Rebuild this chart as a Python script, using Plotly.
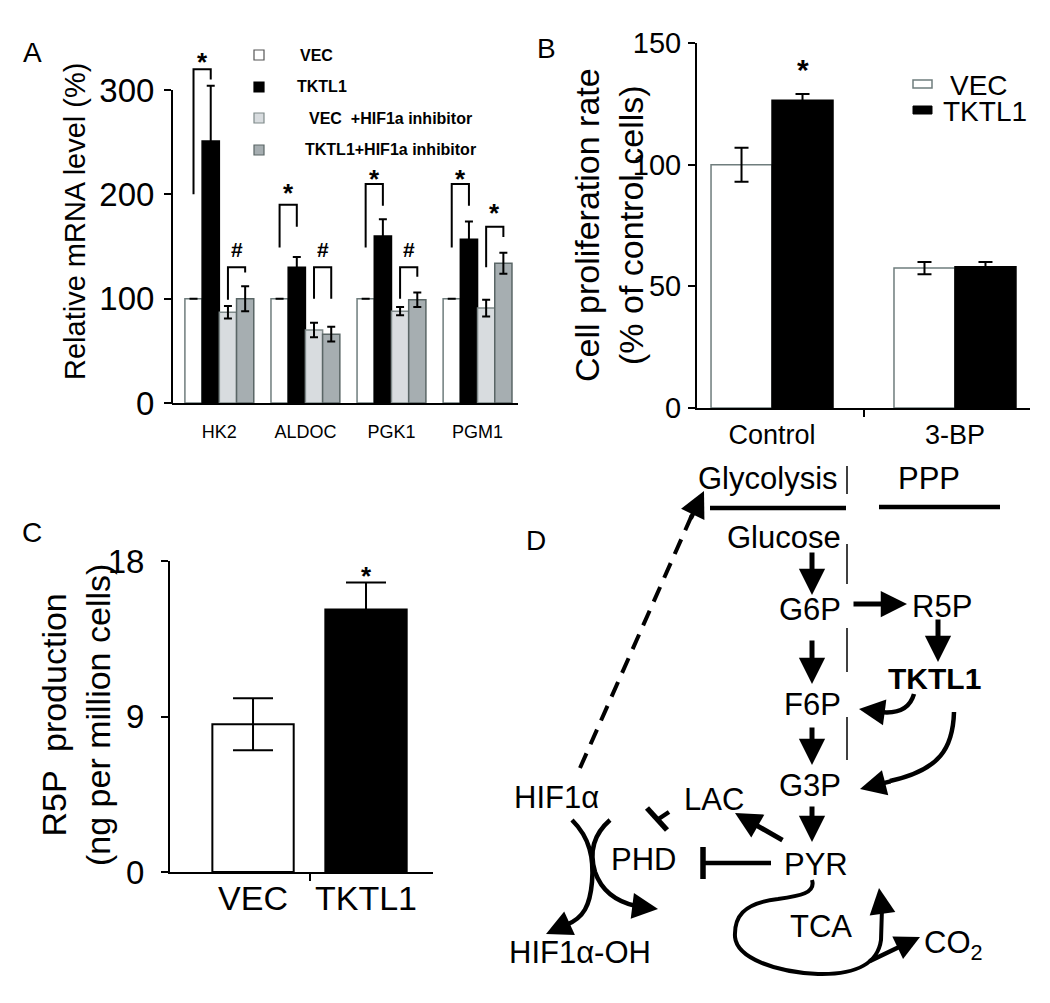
import plotly.graph_objects as go

W, H = 1050, 1003

# ---------------- data ----------------
# Panel A
genes = ["HK2", "ALDOC", "PGK1", "PGM1"]
a_names = ["VEC", "TKTL1", "VEC  +HIF1a inhibitor", "TKTL1+HIF1a inhibitor"]
a_vec = [100, 100, 100, 100]
a_vec_err = [0, 0, 0, 0]
a_tktl1 = [251, 130, 160, 157]
a_tktl1_err = [53, 10, 16, 17]
a_vec_hif = [87, 70, 88, 91]
a_vec_hif_err = [6, 7, 4, 8]
a_tktl1_hif = [100, 66, 99, 134]
a_tktl1_hif_err = [12, 7, 7, 10]
a_yticks = [0, 100, 200, 300]
# significance brackets: (gene index, left bar, right bar, left foot, top, right foot, mark, mark level)
a_sig = [
    (0, 0, 1, 200, 320, 310, "*", 333),
    (1, 0, 1, 149, 190, 169, "*", 207),
    (2, 0, 1, 149, 210, 189, "*", 220),
    (3, 0, 1, 149, 210, 189, "*", 220),
    (0, 2, 3, 99, 130, 125, "#", 147),
    (1, 2, 3, 100, 130, 100, "#", 147),
    (2, 2, 3, 100, 130, 121, "#", 147),
    (3, 2, 3, 130, 169, 159, "*", 188),
]

# Panel B
b_groups = ["Control", "3-BP"]
b_names = ["VEC", "TKTL1"]
b_vec = [100, 57.5]
b_vec_err = [7, 2.5]
b_tktl1 = [126.5, 58]
b_tktl1_err = [2.5, 2]
b_yticks = [0, 50, 100, 150]

# Panel C
c_groups = ["VEC", "TKTL1"]
c_vals = [8.55, 15.2]
c_err = [1.5, 1.55]
c_yticks = [0, 9, 18]

FONT = "Liberation Sans, Arial, sans-serif"

# ---------------- geometry helpers ----------------
def PXf(x):
    return x / W

def PYf(y):
    return 1 - y / H

def pt(x, y):
    return f"{PXf(x):.5f},{PYf(y):.5f}"

# panel A axes (pixels)
A_X0, A_X1, A_XR = 172, 518, (-0.55, 3.47)
A_YB, A_K = 403, 313 / 300
A_YR = (0, 312)
A_YT = A_YB - A_YR[1] * A_K
# panel B
B_X0, B_X1, B_XR = 697, 1030, (-0.41, 1.41)
B_YB, B_YT, B_YR = 408, 43, (0, 150)
# panel C
C_X0, C_X1, C_XR = 170, 433, (-0.735, 1.593)
C_YB, C_YT, C_YR = 872, 561, (0, 18)


def a_xpx(i, j):
    c = i - 0.3 + 0.2 * j
    return A_X0 + (c - A_XR[0]) / (A_XR[1] - A_XR[0]) * (A_X1 - A_X0)


def a_ypx(v):
    return A_YB - v * A_K


def b_xpx(c):
    return B_X0 + (c - B_XR[0]) / (B_XR[1] - B_XR[0]) * (B_X1 - B_X0)


def b_ypx(v):
    return B_YB - v / B_YR[1] * (B_YB - B_YT)


def c_xpx(c):
    return C_X0 + (c - C_XR[0]) / (C_XR[1] - C_XR[0]) * (C_X1 - C_X0)


def c_ypx(v):
    return C_YB - v / C_YR[1] * (C_YB - C_YT)


fig = go.Figure()

# ---------------- Panel A bars ----------------
a_styles = [
    ("white", "#6f7d7d"),
    ("black", "black"),
    ("#d8dcdf", "#7f8a8a"),
    ("#a6aeb1", "#5a6666"),
]
a_vals = [a_vec, a_tktl1, a_vec_hif, a_tktl1_hif]
a_errs = [a_vec_err, a_tktl1_err, a_vec_hif_err, a_tktl1_hif_err]
for name, vals, errs, (fc, lc) in zip(a_names, a_vals, a_errs, a_styles):
    fig.add_trace(go.Bar(
        x=genes, y=vals, name=name, xaxis="x", yaxis="y",
        marker=dict(color=fc, line=dict(color=lc, width=1.5)),
        error_y=dict(type="data", array=errs, visible=True, color="black",
                     thickness=2, width=4),
        showlegend=False,
    ))

# ---------------- Panel B bars ----------------
fig.add_trace(go.Bar(
    x=[0, 1], y=b_vec, name=b_names[0], xaxis="x2", yaxis="y2",
    width=1 / 3, offset=-1 / 3,
    marker=dict(color="white", line=dict(color="#6f7d7d", width=1.5)),
    error_y=dict(type="data", array=b_vec_err, visible=True, color="black",
                 thickness=2, width=7),
    showlegend=False,
))
fig.add_trace(go.Bar(
    x=[0, 1], y=b_tktl1, name=b_names[1], xaxis="x2", yaxis="y2",
    width=1 / 3, offset=0,
    marker=dict(color="black", line=dict(color="black", width=1.5)),
    error_y=dict(type="data", array=b_tktl1_err, visible=True, color="black",
                 thickness=2, width=7),
    showlegend=False,
))

# ---------------- Panel C bars ----------------
fig.add_trace(go.Bar(
    x=[0, 1], y=c_vals, xaxis="x3", yaxis="y3",
    width=0.72, offset=-0.36,
    marker=dict(color=["white", "black"], line=dict(color="black", width=2)),
    error_y=dict(type="data", array=c_err, visible=True, color="black",
                 thickness=2, width=20),
    showlegend=False,
))

shapes = []
annotations = []


def line(x0, y0, x1, y1, width=2, color="black", dash=None):
    d = dict(type="line", xref="paper", yref="paper",
             x0=PXf(x0), y0=PYf(y0), x1=PXf(x1), y1=PYf(y1),
             line=dict(color=color, width=width))
    if dash:
        d["line"]["dash"] = dash
    shapes.append(d)


def path(d, width=4):
    shapes.append(dict(type="path", xref="paper", yref="paper", path=d,
                       line=dict(color="black", width=width),
                       fillcolor="rgba(0,0,0,0)"))


def txt(s, x, y, size, bold=False, xanchor="center", angle=0, color="black", height=None):
    if bold:
        s = "<b>" + s + "</b>"
    a = dict(text=s, x=PXf(x), y=PYf(y), xref="paper", yref="paper",
             showarrow=False, xanchor=xanchor, yanchor="middle",
             textangle=angle,
             font=dict(size=size, family=FONT, color=color))
    if height:
        a["height"] = height
    annotations.append(a)


def arrow(x0, y0, x1, y1, width=5, size=1.05):
    # tail (x0,y0) -> tip (x1,y1), pixel coordinates
    annotations.append(dict(text="", x=PXf(x1), y=PYf(y1), xref="paper", yref="paper",
                            showarrow=True, ax=x0 - x1, ay=y0 - y1,
                            axref="pixel", ayref="pixel",
                            arrowhead=2, arrowwidth=width, arrowsize=size,
                            arrowcolor="black", standoff=0))


# ---------------- Panel A decorations ----------------
line(A_X0, a_ypx(300), A_X0, A_YB + 1, width=2)
for (i, jl, jr, yl, yt, yr, mark, ym) in a_sig:
    xl, xr = a_xpx(i, jl), a_xpx(i, jr)
    path(f"M{pt(xl, a_ypx(yl))} L{pt(xl, a_ypx(yt))} L{pt(xr, a_ypx(yt))} L{pt(xr, a_ypx(yr))}", width=2)
    if mark == "*":
        txt("*", (xl + xr) / 2, a_ypx(ym) + 6, 26, bold=True)
    else:
        txt("#", (xl + xr) / 2, a_ypx(ym), 21, bold=True)

# legend A
leg_rows = [55, 87, 118, 150]
leg_text_x = [298, 295, 307, 303]
for (fc, lc), name, yy, tx in zip(a_styles, a_names, leg_rows, leg_text_x):
    shapes.append(dict(type="rect", xref="paper", yref="paper",
                       x0=PXf(254), x1=PXf(264), y0=PYf(yy + 5), y1=PYf(yy - 5),
                       fillcolor=fc, line=dict(color=lc if fc != "white" else "#555", width=1.2)))
    txt(name.replace("  ", "&nbsp;&nbsp;"), tx, yy, 16, bold=True, xanchor="left")

txt("Relative mRNA level (%)", 75, 222, 29, angle=-90)
txt("A", 32, 53, 28)

# ---------------- Panel B decorations ----------------
txt("*", b_xpx(0.1667), b_ypx(142) + 7, 30, bold=True)
shapes.append(dict(type="rect", xref="paper", yref="paper",
                   x0=PXf(913), x1=PXf(932), y0=PYf(88), y1=PYf(80),
                   fillcolor="white", line=dict(color="#6f7d7d", width=1.5)))
shapes.append(dict(type="rect", xref="paper", yref="paper",
                   x0=PXf(913), x1=PXf(932), y0=PYf(114), y1=PYf(106),
                   fillcolor="black", line=dict(color="black", width=1)))
txt(b_names[0], 948, 86, 28, xanchor="left", height=25)
txt(b_names[1], 941, 112, 28, xanchor="left", height=25)
txt("Cell proliferation rate<br>(% of control cells)", 609, 225, 34, angle=-90)
txt("B", 546, 48, 28)

# ---------------- Panel C decorations ----------------
txt("*", c_xpx(1), c_ypx(17.5) + 6, 26, bold=True)
txt("R5P  production<br>(ng per million cells)", 76, 715, 34, angle=-90)
txt("C", 32, 532, 28)

# ---------------- Panel D diagram ----------------
txt("D", 536, 540, 28)
txt("Glycolysis", 768, 479, 31)
txt("PPP", 929, 478, 31)
txt("Glucose", 784, 537, 31)
txt("G6P", 810, 609, 31)
txt("R5P", 942, 606, 31)
txt("TKTL1", 934, 678, 30, bold=True)
txt("F6P", 812, 704, 31)
txt("G3P", 810, 785, 31)
txt("LAC", 714, 799, 31)
txt("HIF1α", 556, 797, 31)
txt("PHD", 643, 859, 31)
txt("PYR", 816, 864, 31)
txt("TCA", 821, 926, 31)
txt("CO<sub>2</sub>", 953, 945, 31)
txt("HIF1α-OH", 580, 952, 31)

# header lines
line(710, 508, 846, 508, width=4.5)
line(879, 507, 1000, 507, width=4.5)
for (y0, y1) in [(466, 494), (544, 584), (628, 672), (717, 760)]:
    line(847, y0, 847, y1, width=1.5)

# straight reaction arrows
arrow(812, 551, 812, 595)
arrow(852, 604, 907, 604)
arrow(938, 618, 938, 662)
arrow(812, 639, 812, 684)
arrow(812, 726, 812, 765)
arrow(812, 805, 812, 842)
arrow(784, 841, 735, 813)
arrow(868, 962, 920, 937, width=4.5, size=1.1)

# dashed HIF1a -> glycolysis
line(580, 768, 692, 515, width=4, dash="16px,10px")
arrow(690, 520, 704, 491, width=4.5, size=1.15)

# inhibition tees
line(771, 863, 703, 863, width=4.5)
line(703, 847, 703, 879, width=5.5)
line(669, 812, 657, 820, width=4.5)
line(647, 808, 667, 830, width=5.5)

# curved arrows
path(f"M{pt(914, 694)} C{pt(910, 708)} {pt(898, 714)} {pt(880, 712)}", width=4.5)
arrow(882, 712, 859, 709, width=4.5, size=1.15)
path(f"M{pt(954, 712)} C{pt(953, 748)} {pt(940, 770)} {pt(890, 781)}", width=4.5)
arrow(892, 781, 860, 789, width=4.5, size=1.15)
path(f"M{pt(812, 880)} C{pt(816, 893)} {pt(800, 896)} {pt(778, 899)} "
     f"C{pt(742, 903)} {pt(734, 918)} {pt(735, 937)} "
     f"C{pt(737, 958)} {pt(775, 972)} {pt(818, 974)} "
     f"C{pt(858, 975)} {pt(878, 962)} {pt(881, 940)} "
     f"L{pt(882, 908)}", width=4)
arrow(882, 910, 879, 888, width=4.5, size=1.15)
path(f"M{pt(572, 820)} C{pt(590, 838)} {pt(594, 858)} {pt(592, 882)} "
     f"C{pt(590, 905)} {pt(584, 918)} {pt(566, 925)}", width=4.5)
arrow(568, 924, 546, 934, width=4.5, size=1.15)
path(f"M{pt(610, 820)} C{pt(594, 834)} {pt(589, 852)} {pt(595, 872)} "
     f"C{pt(602, 892)} {pt(618, 902)} {pt(636, 906)}", width=4.5)
arrow(634, 906, 658, 909, width=4.5, size=1.15)

axis_common = dict(showgrid=False, zeroline=False, linecolor="black", linewidth=2,
                   tickcolor="black", tickwidth=2, color="black", automargin=False)

fig.update_layout(
    width=W, height=H, autosize=False,
    margin=dict(l=0, r=0, t=0, b=0, pad=0, autoexpand=False),
    paper_bgcolor="white", plot_bgcolor="rgba(0,0,0,0)",
    barmode="group", bargap=0.2, bargroupgap=0,
    showlegend=False,
    font=dict(family=FONT, color="black"),
    xaxis=dict(domain=[A_X0 / W, A_X1 / W], range=list(A_XR), type="category",
               showline=True, ticks="", tickfont=dict(size=18), anchor="y",
               ticklabelstandoff=11, **axis_common),
    yaxis=dict(domain=[1 - A_YB / H, 1 - A_YT / H], range=list(A_YR),
               tickvals=a_yticks, ticks="outside", ticklen=7, showline=False,
               tickfont=dict(size=33), anchor="x", ticklabelstandoff=3, **axis_common),
    xaxis2=dict(domain=[B_X0 / W, B_X1 / W], range=list(B_XR),
                tickvals=[0, 1], ticktext=b_groups, ticks="",
                minor=dict(tickvals=[0.5], ticks="outside", ticklen=7, tickwidth=2,
                           tickcolor="black", showgrid=False),
                showline=True, tickfont=dict(size=27), anchor="y2",
                ticklabelstandoff=2, **axis_common),
    yaxis2=dict(domain=[1 - B_YB / H, 1 - B_YT / H], range=list(B_YR),
                tickvals=b_yticks, ticks="outside", ticklen=7, showline=True,
                tickfont=dict(size=29), anchor="x2", ticklabelstandoff=1, **axis_common),
    xaxis3=dict(domain=[C_X0 / W, C_X1 / W], range=list(C_XR),
                tickvals=[0, 1], ticktext=c_groups, ticks="",
                minor=dict(tickvals=[0.5], ticks="outside", ticklen=7, tickwidth=2,
                           tickcolor="black", showgrid=False),
                showline=True, tickfont=dict(size=34), anchor="y3",
                ticklabelstandoff=-5, **axis_common),
    yaxis3=dict(domain=[1 - C_YB / H, 1 - C_YT / H], range=list(C_YR),
                tickvals=c_yticks, ticks="outside", ticklen=7, showline=True,
                tickfont=dict(size=33), anchor="x3", ticklabelstandoff=10, **axis_common),
    shapes=shapes,
    annotations=annotations,
)

fig.write_html(
    "out.html",
    config={"displayModeBar": False, "responsive": False},
    post_script="document.body.style.margin='0px';document.body.style.padding='0px';"
                "document.documentElement.style.overflow='hidden';",
)
